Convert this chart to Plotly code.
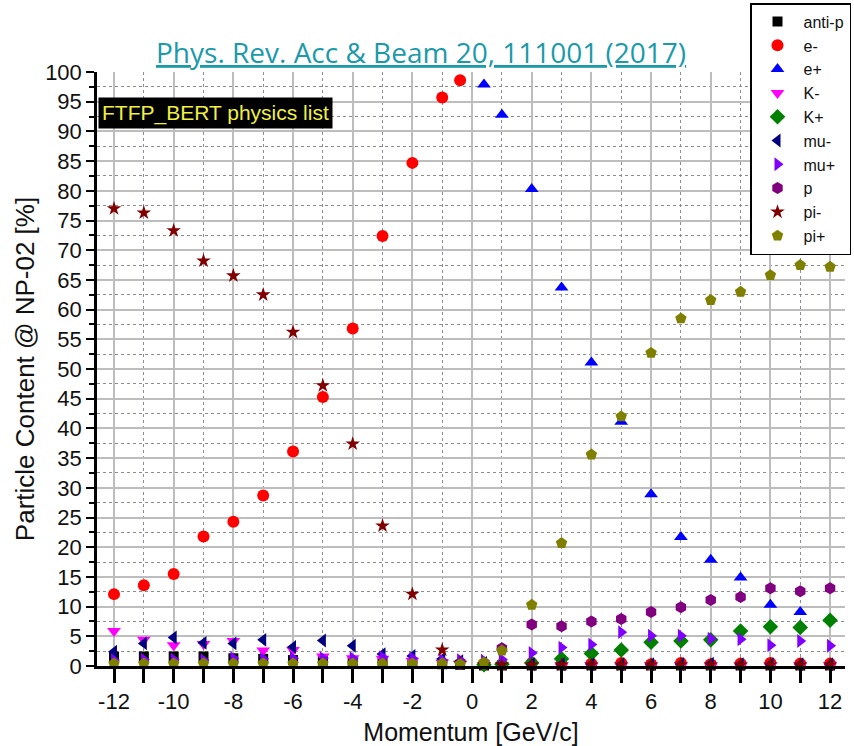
import plotly.graph_objects as go

# Momentum values [GeV/c]
momentum = [-12, -11, -10, -9, -8, -7, -6, -5, -4, -3, -2, -1, -0.4,
            0.4, 1, 2, 3, 4, 5, 6, 7, 8, 9, 10, 11, 12]

# Axis tick values / labels
x_tick_vals = [-12, -10, -8, -6, -4, -2, 0, 2, 4, 6, 8, 10, 12]
x_tick_text = ["-12", "-10", "-8", "-6", "-4", "-2", "0", "2", "4", "6", "8", "10", "12"]

# Particle content [%] per species
anti_p = [1.6, 1.6, 1.6, 1.6, 1.3, 1.2, 1.0, 0.9, 0.8, 0.6, 0.5, 0.3, 0.2,
          0.1, 0.1, 0.1, 0.1, 0.1, 0.1, 0.1, 0.1, 0.1, 0.1, 0.1, 0.1, 0.1]
e_minus = [12.1, 13.6, 15.5, 21.8, 24.3, 28.7, 36.1, 45.3, 56.8, 72.4, 84.7, 95.7, 98.6,
           0.4, 0.3, 0.5, 0.3, 0.4, 0.5, 0.3, 0.5, 0.3, 0.4, 0.5, 0.4, 0.4]
e_plus = [None, None, None, None, None, None, None, None, None, None, None, None, None,
          97.9, 92.8, 80.3, 63.7, 51.1, 41.1, 28.9, 21.7, 17.9, 14.9, 10.3, 9.1, None]
k_minus = [5.9, 4.4, 3.5, 3.7, 4.2, 2.6, 2.7, 1.6, 1.3, 1.2, 0.9, 0.6, 0.3,
           0.1, 0.1, 0.1, 0.1, 0.1, 0.1, 0.1, 0.1, 0.1, 0.1, 0.1, 0.1, 0.1]
k_plus = [None, None, None, None, None, None, None, None, None, None, None, None, None,
          0.2, 0.3, 0.5, 1.2, 2.1, 2.7, 4.0, 4.2, 4.4, 5.9, 6.6, 6.5, 7.7]
mu_minus = [2.4, 3.8, 4.8, 3.9, 3.8, 4.4, 3.2, 4.3, 3.4, 2.0, 1.7, 1.2, 0.8,
            0.5, 0.4, 0.3, 0.3, 0.3, 0.3, 0.3, 0.3, 0.4, 0.3, 0.3, 0.3, 0.3]
mu_plus = [1.0, 1.1, 1.1, 1.0, 1.3, 1.2, 1.3, 1.3, 1.3, 1.5, 1.3, 1.0, 1.0,
           0.9, 1.1, 2.2, 3.1, 3.6, 5.7, 5.1, 5.1, 4.6, 4.5, 3.5, 4.2, 3.4]
proton = [None, None, None, None, None, None, None, None, None, None, None, None, None,
          None, 3.0, 7.0, 6.7, 7.5, 7.9, 9.1, 9.9, 11.1, 11.6, 13.1, 12.6, 13.1]
pi_minus = [77.0, 76.3, 73.3, 68.2, 65.7, 62.5, 56.2, 47.2, 37.4, 23.6, 12.1, 2.7, 0.5,
            0.2, 0.2, 0.2, 0.2, 0.2, 0.2, 0.2, 0.2, 0.2, 0.2, 0.2, 0.2, 0.2]
pi_plus = [0.4, 0.4, 0.4, 0.4, 0.4, 0.4, 0.4, 0.4, 0.4, 0.4, 0.4, 0.4, 0.3,
           0.6, 2.6, 10.3, 20.7, 35.6, 42.0, 52.7, 58.5, 61.6, 63.0, 65.8, 67.5, 67.2]

species = [
    ("anti-p", anti_p, "square", "#000000", 10),
    ("e-", e_minus, "circle", "#FF0000", 12),
    ("e+", e_plus, "triangle-up", "#0000FF", 12),
    ("K-", k_minus, "triangle-down", "#FF00FF", 12),
    ("K+", k_plus, "diamond", "#008000", 12),
    ("mu-", mu_minus, "triangle-left", "#000080", 12),
    ("mu+", mu_plus, "triangle-right", "#8000FF", 12),
    ("p", proton, "hexagon", "#800080", 12),
    ("pi-", pi_minus, "star", "#800000", 11),
    ("pi+", pi_plus, "pentagon", "#808000", 12),
]

fig = go.Figure()
for name, vals, sym, col, size in species:
    fig.add_trace(go.Scatter(
        x=momentum, y=vals, mode="markers", name=name,
        marker=dict(symbol=sym, color=col, size=size, line=dict(width=0)),
        cliponaxis=False,
    ))

FONT = "Liberation Sans, Arial, sans-serif"
axis_font = dict(family=FONT, size=22, color="#111111")

fig.update_layout(
    width=854, height=746,
    margin=dict(l=97, r=9, t=72, b=80, autoexpand=False),
    paper_bgcolor="white", plot_bgcolor="white",
    font=dict(family=FONT, size=16, color="#111111"),
    showlegend=True,
    legend=dict(
        x=0.873, y=1.116, xanchor="left", yanchor="top",
        bgcolor="white", bordercolor="black", borderwidth=1.5,
        font=dict(family=FONT, size=16, color="#111111"),
        tracegroupgap=0, itemwidth=42,
    ),
    xaxis=dict(
        range=[-12.57, 12.5], tickmode="array", tickvals=x_tick_vals, ticktext=x_tick_text,
        ticks="outside", ticklen=14, tickwidth=2.5, tickcolor="black",
        showline=True, linecolor="black", linewidth=2.5,
        showgrid=True, gridcolor="#BDBDBD", gridwidth=1.5,
        zeroline=False, tickfont=axis_font,
        minor=dict(tickmode="linear", tick0=-12, dtick=1, ticks="outside", ticklen=14,
                   tickwidth=2.5, tickcolor="black", showgrid=True,
                   gridcolor="#8C8CA0", griddash="dot", gridwidth=1),
        title=dict(text="Momentum [GeV/c]", standoff=12,
                   font=dict(family=FONT, size=25, color="#111111")),
    ),
    yaxis=dict(
        range=[0, 100], tickmode="linear", tick0=0, dtick=5,
        ticks="outside", ticklen=8, tickwidth=2, tickcolor="black",
        showline=True, linecolor="black", linewidth=2.5,
        showgrid=True, gridcolor="#BDBDBD", gridwidth=1.5,
        zeroline=False, tickfont=axis_font,
        minor=dict(tickmode="linear", tick0=0, dtick=2.5, ticks="outside", ticklen=5,
                   tickwidth=2, tickcolor="black", showgrid=True,
                   gridcolor="#8C8C8C", griddash="dot", gridwidth=1),
        title=dict(text="Particle Content @ NP-02 [%]", standoff=4,
                   font=dict(family=FONT, size=26, color="#111111")),
    ),
)

fig.add_annotation(
    xref="paper", yref="paper", x=0.433, y=1.034, xanchor="center", yanchor="middle",
    text='<span style="text-decoration:underline">Phys. Rev. Acc &amp; Beam 20, 111001 (2017)</span>',
    showarrow=False,
    font=dict(family="Open Sans, Noto Sans, sans-serif", size=28, color="#1B9AAA"),
)

fig.add_annotation(
    xref="paper", yref="paper", x=0.002, y=0.958, xanchor="left", yanchor="top",
    text="FTFP_BERT physics list", showarrow=False,
    bgcolor="black", borderpad=3,
    font=dict(family=FONT, size=21, color="#F0F040"),
)

fig.write_html(
    "out.html",
    config={"displayModeBar": False},
    post_script="document.body.style.margin='0';document.body.style.overflow='hidden';",
)
